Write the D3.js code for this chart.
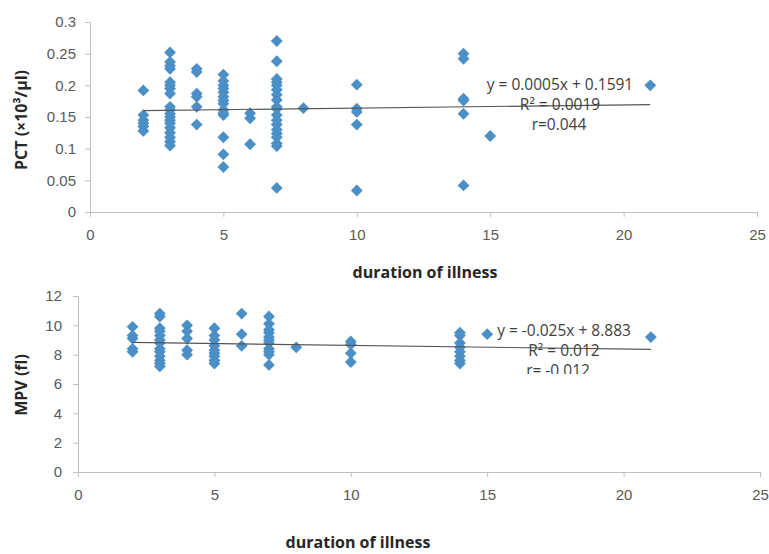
<!DOCTYPE html>
<html>
<head>
<meta charset="utf-8">
<script src="https://cdn.jsdelivr.net/npm/d3@7"></script>
<style>
  body { margin: 0; background: #fff; }
  svg { display: block; font-family: "Open Sans", sans-serif; }
  .tick text { fill: #595959; font-size: 15px; }
  .domain, .tick line { stroke: #bfbfbf; }
</style>
</head>
<body>
<svg id="chart" width="769" height="554"></svg>
<script>
// duration of illness (days) and the readings seen at each
const days = [2, 3, 4, 5, 6, 7, 8, 10, 14, 15, 21];

const pctValues = [
  [0.192, 0.153, 0.145, 0.14, 0.135, 0.128],
  [0.252, 0.237, 0.231, 0.226, 0.205, 0.2, 0.195, 0.187, 0.166, 0.161, 0.155, 0.15, 0.145, 0.14, 0.133, 0.125, 0.118, 0.111, 0.105],
  [0.226, 0.221, 0.187, 0.182, 0.166, 0.138],
  [0.217, 0.207, 0.2, 0.195, 0.189, 0.182, 0.176, 0.171, 0.161, 0.156, 0.153, 0.118, 0.091, 0.071],
  [0.156, 0.148, 0.107],
  [0.27, 0.238, 0.21, 0.205, 0.2, 0.193, 0.185, 0.177, 0.166, 0.163, 0.153, 0.145, 0.138, 0.13, 0.124, 0.118, 0.108, 0.104, 0.038],
  [0.164],
  [0.201, 0.163, 0.158, 0.138, 0.034],
  [0.25, 0.242, 0.179, 0.176, 0.155, 0.042],
  [0.12],
  [0.2]
];

const mpvValues = [
  [9.9, 9.3, 9.1, 8.4, 8.2],
  [10.8, 10.6, 9.8, 9.6, 9.3, 9.0, 8.8, 8.4, 8.2, 7.9, 7.6, 7.4, 7.2],
  [10.0, 9.6, 9.1, 8.3, 8.0],
  [9.8, 9.3, 9.0, 8.6, 8.3, 8.1, 7.9, 7.6, 7.4],
  [10.8, 9.4, 8.6],
  [10.6, 10.1, 9.7, 9.5, 9.2, 9.0, 8.8, 8.4, 8.2, 8.0, 7.3],
  [8.5],
  [8.9, 8.7, 8.1, 7.5],
  [9.5, 9.3, 8.8, 8.5, 8.2, 7.9, 7.6, 7.4],
  [9.4],
  [9.2]
];

const xTicks = [0, 5, 10, 15, 20, 25];
const pctTicks = [0, 0.05, 0.1, 0.15, 0.2, 0.25, 0.3];
const mpvTicks = [0, 2, 4, 6, 8, 10, 12];

// trendline: slope, intercept, and the text shown beside it
const pctFit = [0.0005, 0.1591];
const mpvFit = [-0.025, 8.883];
const pctFitText = ["y = 0.0005x + 0.1591", "R² = 0.0019", "r=0.044"];
const mpvFitText = ["y = -0.025x + 8.883", "R² = 0.012", "r= -0.012"];

const svg = d3.select("#chart");
const blue = "#4b8fc6";
const diamond = d3.symbol().type(d3.symbolSquare).size(70);

function panel(opt) {
  const x = d3.scaleLinear().domain([0, 25]).range(opt.xr);
  const y = d3.scaleLinear().domain(opt.yd).range(opt.yr);
  const g = svg.append("g");

  g.append("g")
    .attr("transform", "translate(0," + opt.yr[0] + ")")
    .call(d3.axisBottom(x).tickValues(xTicks).tickSize(5).tickPadding(12).tickSizeOuter(5))
    .call(a => a.selectAll(".tick text").attr("dy", "0.71em"));

  g.append("g")
    .attr("transform", "translate(" + opt.xr[0] + ",0)")
    .call(d3.axisLeft(y).tickValues(opt.ticks).tickFormat(opt.fmt)
      .tickSize(5).tickPadding(opt.pad).tickSizeOuter(0));

  const pts = [];
  days.forEach((d, i) => opt.vals[i].forEach(v => pts.push([d, v])));

  g.selectAll("path.pt")
    .data(pts)
    .enter()
    .append("path")
    .attr("class", "pt")
    .attr("d", diamond)
    .attr("transform", d => "translate(" + x(d[0]) + "," + y(d[1]) + ") rotate(45)")
    .attr("fill", blue);

  const x0 = d3.min(days), x1 = d3.max(days);
  g.append("line")
    .attr("x1", x(x0)).attr("y1", y(opt.fit[0] * x0 + opt.fit[1]))
    .attr("x2", x(x1)).attr("y2", y(opt.fit[0] * x1 + opt.fit[1]))
    .attr("stroke", "#555")
    .attr("stroke-width", 1.2);

  const lab = g.append("g");
  if (opt.clip) {
    svg.append("clipPath").attr("id", opt.clip.id)
      .append("rect").attr("x", 0).attr("y", 0).attr("width", 769).attr("height", opt.clip.bottom);
    lab.attr("clip-path", "url(#" + opt.clip.id + ")");
  }
  lab.selectAll("text")
    .data(opt.fitText)
    .enter()
    .append("text")
    .attr("x", (d, i) => opt.lx[i])
    .attr("y", (d, i) => opt.ly + i * 20)
    .attr("text-anchor", "middle")
    .attr("dy", "0.35em")
    .attr("fill", "#404040")
    .style("font-size", "15.5px")
    .text(d => d);

  svg.append("text")
    .attr("x", opt.xt[0]).attr("y", opt.xt[1])
    .attr("text-anchor", "middle")
    .attr("dy", "0.35em")
    .attr("fill", "#262626")
    .style("font-size", "16px")
    .style("font-weight", "bold")
    .text("duration of illness");

  svg.append("text")
    .attr("transform", "translate(" + opt.yt[0] + "," + opt.yt[1] + ") rotate(-90)")
    .attr("text-anchor", "middle")
    .attr("dy", "0.35em")
    .attr("fill", "#262626")
    .style("font-size", "16px")
    .style("font-weight", "bold")
    .text(opt.ytitle);
}

panel({
  xr: [90, 757], yd: [0, 0.3], yr: [212, 22],
  ticks: pctTicks, fmt: d => String(+d.toFixed(2)), pad: 9,
  vals: pctValues, fit: pctFit, fitText: pctFitText,
  lx: [560, 560, 559], ly: 85,
  xt: [425, 272], yt: [21, 120], ytitle: "PCT (×10³/µl)"
});

panel({
  xr: [78, 760], yd: [0, 12], yr: [472, 296],
  ticks: mpvTicks, fmt: d3.format("d"), pad: 11,
  vals: mpvValues, fit: mpvFit, fitText: mpvFitText,
  lx: [564, 564, 558], ly: 331,
  clip: { id: "mpvclip", bottom: 374 },
  xt: [358, 542], yt: [21, 385], ytitle: "MPV (fl)"
});
</script>
</body>
</html>
